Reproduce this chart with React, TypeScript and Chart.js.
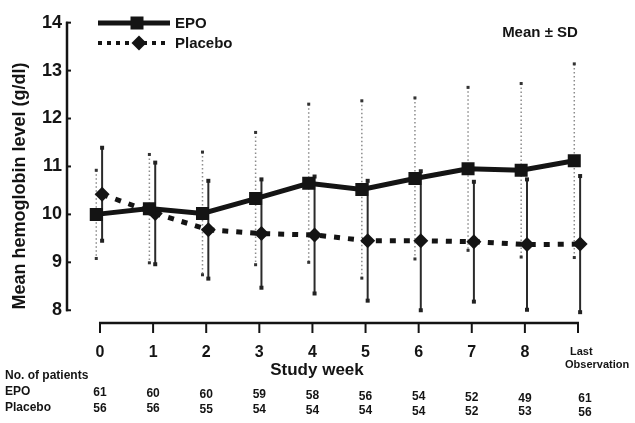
import { useEffect, useRef } from 'react';
import { Chart, registerables } from 'chart.js';

Chart.register(...registerables);

const FONT = "'Liberation Sans', Arial, Helvetica, sans-serif";

// Data
const weekLabels = ['0', '1', '2', '3', '4', '5', '6', '7', '8', 'Last Observation'];
const epoMean = [10.0, 10.12, 10.02, 10.33, 10.65, 10.52, 10.75, 10.95, 10.92, 11.12];
const epoSD = [0.92, 1.13, 1.28, 1.38, 1.65, 1.85, 1.68, 1.7, 1.81, 2.02];
const placeboMean = [10.42, 10.02, 9.68, 9.6, 9.57, 9.45, 9.45, 9.43, 9.37, 9.38];
const placeboSD = [0.97, 1.06, 1.02, 1.13, 1.22, 1.25, 1.45, 1.25, 1.36, 1.42];
const epoN = [61, 60, 60, 59, 58, 56, 54, 52, 49, 61];
const placeboN = [56, 56, 55, 54, 54, 54, 54, 52, 53, 56];
const yTickValues = [8, 9, 10, 11, 12, 13, 14];

const EPO_SHIFT = -0.07;
const PLA_SHIFT = 0.04;
const INK = '#141414';

const errorBarsPlugin = {
  id: 'errorBars',
  beforeDatasetsDraw(chart: any) {
    const { ctx, scales } = chart;
    const x = scales.x;
    const y = scales.y;
    ctx.save();
    // EPO: dotted grey bars
    epoMean.forEach((m, i) => {
      const px = x.getPixelForValue(i + EPO_SHIFT);
      const top = y.getPixelForValue(m + epoSD[i]);
      const bot = y.getPixelForValue(m - epoSD[i]);
      ctx.strokeStyle = '#8c8c8c';
      ctx.lineWidth = 1.5;
      ctx.setLineDash([1.5, 2.5]);
      ctx.beginPath();
      ctx.moveTo(px, top);
      ctx.lineTo(px, bot);
      ctx.stroke();
      ctx.setLineDash([]);
      ctx.fillStyle = '#333';
      ctx.fillRect(px - 1.5, top - 1.5, 3, 3);
      ctx.fillRect(px - 1.5, bot - 1.5, 3, 3);
    });
    // Placebo: solid dark bars
    placeboMean.forEach((m, i) => {
      const px = x.getPixelForValue(i + PLA_SHIFT);
      const top = y.getPixelForValue(m + placeboSD[i]);
      const bot = y.getPixelForValue(m - placeboSD[i]);
      ctx.strokeStyle = '#2a2a2a';
      ctx.lineWidth = 2;
      ctx.beginPath();
      ctx.moveTo(px, top);
      ctx.lineTo(px, bot);
      ctx.stroke();
      ctx.fillStyle = '#222';
      ctx.fillRect(px - 2, top - 2, 4, 4);
      ctx.fillRect(px - 2, bot - 2, 4, 4);
    });
    ctx.restore();
  },
};

const axesPlugin = {
  id: 'customAxes',
  beforeDatasetsDraw(chart: any) {
    const { ctx, scales, chartArea } = chart;
    const x = scales.x;
    const y = scales.y;
    ctx.save();
    ctx.strokeStyle = INK;
    // y axis
    const ax = chartArea.left;
    ctx.lineWidth = 2.5;
    ctx.beginPath();
    ctx.moveTo(ax, y.getPixelForValue(14) - 1);
    ctx.lineTo(ax, y.getPixelForValue(8) + 1);
    ctx.stroke();
    ctx.lineWidth = 2;
    yTickValues.forEach((v) => {
      const py = y.getPixelForValue(v);
      ctx.beginPath();
      ctx.moveTo(ax - 1, py);
      ctx.lineTo(ax + 4, py);
      ctx.stroke();
    });
    // x axis
    const ay = chartArea.bottom;
    ctx.lineWidth = 2.5;
    ctx.beginPath();
    ctx.moveTo(x.getPixelForValue(0) - 1, ay);
    ctx.lineTo(x.getPixelForValue(weekLabels.length - 1) + 1, ay);
    ctx.stroke();
    ctx.lineWidth = 2;
    weekLabels.forEach((_, i) => {
      const px = x.getPixelForValue(i);
      ctx.beginPath();
      ctx.moveTo(px, ay);
      ctx.lineTo(px, ay + 10);
      ctx.stroke();
    });
    ctx.restore();
  },
};

const textPlugin = {
  id: 'extraText',
  afterDraw(chart: any) {
    const { ctx, scales } = chart;
    const x = scales.x;
    ctx.save();
    ctx.fillStyle = INK;
    ctx.strokeStyle = INK;

    // Legend
    ctx.lineWidth = 5;
    ctx.beginPath();
    ctx.moveTo(98, 23);
    ctx.lineTo(170, 23);
    ctx.stroke();
    ctx.fillRect(137 - 6.5, 23 - 6.5, 13, 13);
    ctx.setLineDash([4, 5]);
    ctx.lineWidth = 4;
    ctx.beginPath();
    ctx.moveTo(98, 43);
    ctx.lineTo(170, 43);
    ctx.stroke();
    ctx.setLineDash([]);
    ctx.beginPath();
    ctx.moveTo(139 - 7.5, 43);
    ctx.lineTo(139, 43 - 7.5);
    ctx.lineTo(139 + 7.5, 43);
    ctx.lineTo(139, 43 + 7.5);
    ctx.closePath();
    ctx.fill();
    ctx.font = `bold 15px ${FONT}`;
    ctx.textAlign = 'left';
    ctx.textBaseline = 'middle';
    ctx.fillText('EPO', 175, 24);
    ctx.fillText('Placebo', 175, 44);

    // Mean ± SD
    ctx.textAlign = 'center';
    ctx.fillText('Mean \u00b1 SD', 540, 33);

    // Y title
    ctx.save();
    ctx.translate(20, 186);
    ctx.rotate(-Math.PI / 2);
    ctx.font = `bold 18px ${FONT}`;
    ctx.textAlign = 'center';
    ctx.textBaseline = 'middle';
    ctx.fillText('Mean hemoglobin level (g/dl)', 0, 0);
    ctx.restore();

    // Last Observation tick label
    const lastPx = x.getPixelForValue(weekLabels.length - 1);
    ctx.font = `bold 11px ${FONT}`;
    ctx.textAlign = 'left';
    ctx.textBaseline = 'middle';
    const parts = weekLabels[weekLabels.length - 1].split(' ');
    ctx.fillText(parts[0], lastPx - 8, 352);
    ctx.fillText(parts[1], lastPx - 13, 365);

    // X title
    ctx.font = `bold 17px ${FONT}`;
    ctx.textAlign = 'center';
    ctx.fillText('Study week', 317, 370);

    // Patient table
    ctx.font = `bold 12px ${FONT}`;
    ctx.textAlign = 'left';
    ctx.fillText('No. of patients', 5, 376);
    ctx.fillText('EPO', 5, 392);
    ctx.fillText('Placebo', 5, 408);
    ctx.textAlign = 'center';
    epoN.forEach((n, i) => {
      const px = x.getPixelForValue(i) + (i === weekLabels.length - 1 ? 7 : 0);
      ctx.fillText(String(n), px, 393 + i * 0.65);
    });
    placeboN.forEach((n, i) => {
      const px = x.getPixelForValue(i) + (i === weekLabels.length - 1 ? 7 : 0);
      ctx.fillText(String(n), px, 408.5 + i * 0.45);
    });
    ctx.restore();
  },
};

export default function App() {
  const canvasRef = useRef<HTMLCanvasElement | null>(null);

  useEffect(() => {
    const canvas = canvasRef.current;
    if (!canvas) return;
    const chart = new Chart(canvas, {
      type: 'line',
      data: {
        datasets: [
          {
            label: 'EPO',
            data: epoMean.map((v, i) => ({ x: i + EPO_SHIFT, y: v })),
            borderColor: INK,
            backgroundColor: INK,
            borderWidth: 5,
            pointStyle: 'rect',
            pointRadius: 9.2,
            pointBorderWidth: 0,
            pointBackgroundColor: INK,
            tension: 0,
            fill: false,
          },
          {
            label: 'Placebo',
            data: placeboMean.map((v, i) => ({ x: i + PLA_SHIFT, y: v })),
            borderColor: INK,
            backgroundColor: INK,
            borderWidth: 5,
            borderDash: [6, 8],
            pointStyle: 'rectRot',
            pointRadius: 7.5,
            pointBorderWidth: 0,
            pointBackgroundColor: INK,
            tension: 0,
            fill: false,
          },
        ],
      },
      options: {
        responsive: false,
        animation: false,
        devicePixelRatio: 1,
        layout: { padding: { top: 10, right: 45, bottom: 0, left: 0 } },
        plugins: {
          legend: { display: false },
          tooltip: { enabled: false },
        },
        scales: {
          x: {
            type: 'linear',
            min: -0.621,
            max: 9.226,
            grid: { display: false, drawTicks: false },
            border: { display: false },
            afterBuildTicks: (s: any) => {
              s.ticks = weekLabels.map((_, i) => ({ value: i }));
            },
            afterFit: (s: any) => {
              s.height = 100;
            },
            ticks: {
              autoSkip: false,
              maxRotation: 0,
              padding: 20,
              color: INK,
              font: { family: FONT, size: 16, weight: 'bold' },
              callback: (v: any) => (v < weekLabels.length - 1 ? weekLabels[v] : ''),
            },
          },
          y: {
            min: 7.734,
            max: 14.143,
            grid: { display: false, drawTicks: false },
            border: { display: false },
            afterBuildTicks: (s: any) => {
              s.ticks = yTickValues.map((v) => ({ value: v }));
            },
            afterFit: (s: any) => {
              s.width = 67;
            },
            ticks: {
              padding: 5,
              color: INK,
              font: { family: FONT, size: 18, weight: 'bold' },
              callback: (v: any) => String(v),
            },
          },
        },
      },
      plugins: [axesPlugin, errorBarsPlugin, textPlugin],
    } as any);
    return () => chart.destroy();
  }, []);

  return (
    <div style={{ position: 'absolute', left: 0, top: 0, width: 635, height: 423, background: '#fff' }}>
      <canvas ref={canvasRef} width={635} height={423} style={{ display: 'block' }} />
    </div>
  );
}
